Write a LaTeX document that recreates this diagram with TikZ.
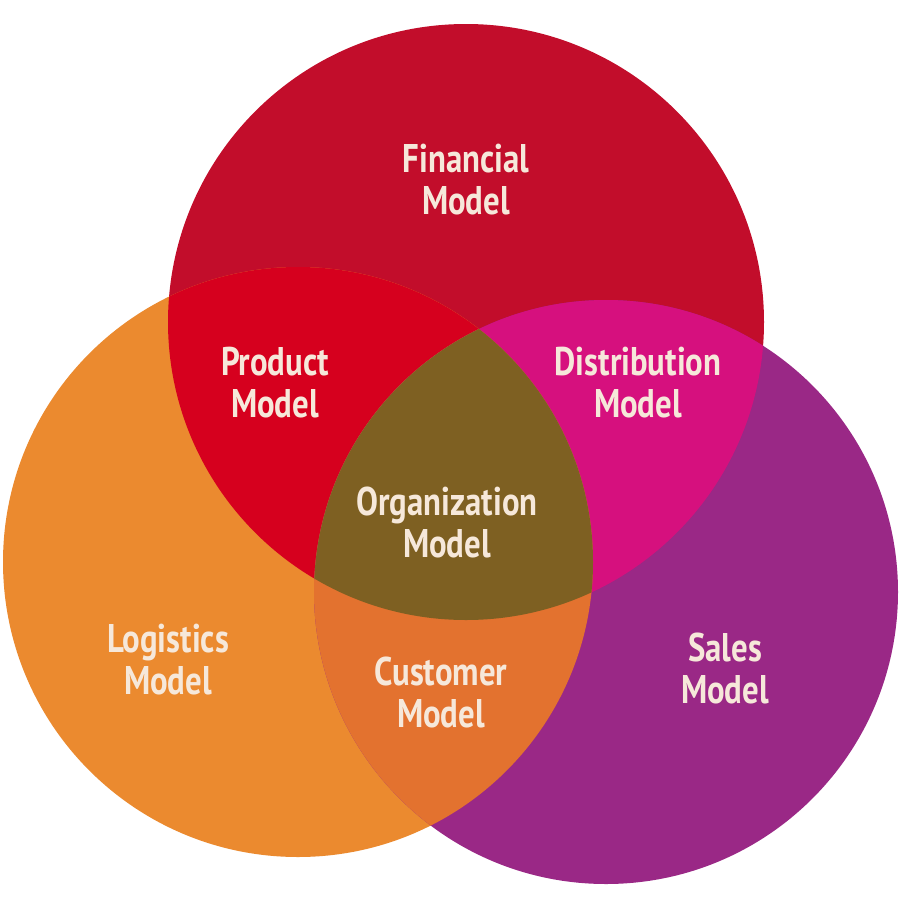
\documentclass[tikz,border=0pt]{standalone}
\usepackage{fontspec}
\setmainfont[FakeStretch=0.82]{PT Sans}
\definecolor{cR}{HTML}{C20D2B}
\definecolor{cO}{HTML}{EB8A2F}
\definecolor{cP}{HTML}{9A2886}
\definecolor{cRO}{HTML}{D6001E}
\definecolor{cRP}{HTML}{D6107E}
\definecolor{cOP}{HTML}{E3722F}
\definecolor{cAll}{HTML}{7E6022}
\definecolor{txt}{HTML}{F6E8DA}
\begin{document}
\begin{tikzpicture}[x=1pt,y=-1pt,
  lab/.style={text=txt,font=\bfseries\fontsize{40}{42}\selectfont,align=center}]
\useasboundingbox (0,0) rectangle (900,900);
\fill[white] (0,0) rectangle (900,900);
\def\cR{(466,322) circle (298)}
\def\cO{(298,562) circle (295)}
\def\cP{(606,592) circle (292)}
\fill[cR] \cR; \fill[cO] \cO; \fill[cP] \cP;
\begin{scope}\clip \cR; \fill[cRO] \cO; \end{scope}
\begin{scope}\clip \cR; \fill[cRP] \cP; \end{scope}
\begin{scope}\clip \cO; \fill[cOP] \cP; \end{scope}
\begin{scope}\clip \cR; \clip \cO; \fill[cAll] \cP; \end{scope}
\node[lab] (fin) at (466,180) {Financial\\Model};
\node[lab] (prod) at (275,383) {Product\\Model};
\node[lab] (dist) at (638,383) {Distribution\\Model};
\node[lab] (org) at (447,522) {Organization\\Model};
\node[lab] (log) at (168,660) {Logistics\\Model};
\node[lab] (cust) at (441,692) {Customer\\Model};
\node[lab] (sales) at (725,668) {Sales\\Model};
\end{tikzpicture}
\end{document}
